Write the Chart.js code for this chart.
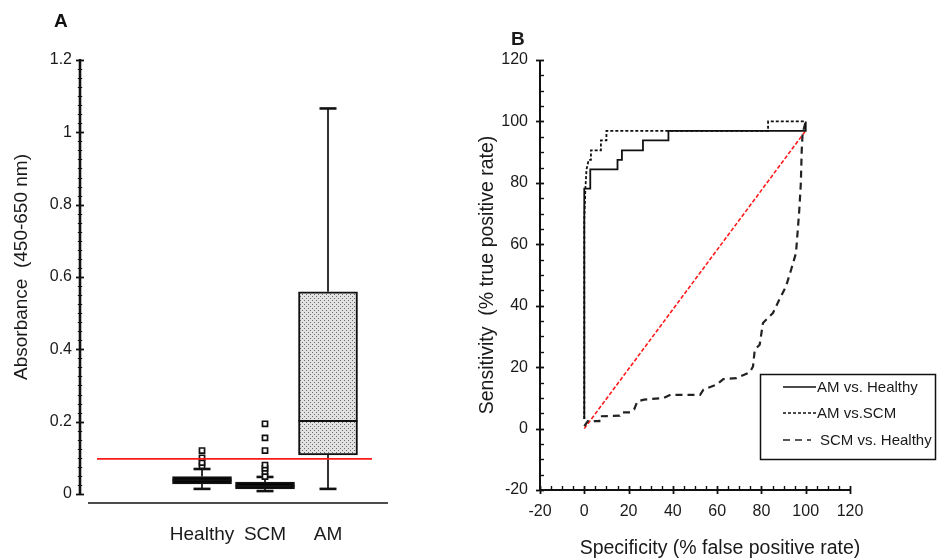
<!DOCTYPE html>
<html>
<head>
<meta charset="utf-8">
<script src="https://cdn.jsdelivr.net/npm/chart.js@4.4.1/dist/chart.umd.min.js"></script>
<style>
  html, body { margin: 0; padding: 0; background: #ffffff; }
  #wrap { position: relative; width: 943px; height: 560px; overflow: hidden; background: #ffffff; }
  canvas { position: absolute; top: 0; }
  #cA { left: 0; }
  #cB { left: 470px; }
</style>
</head>
<body>
<div id="wrap">
  <canvas id="cA" width="470" height="560"></canvas>
  <canvas id="cB" width="473" height="560"></canvas>
</div>
<script>
// ---- Panel A: absorbance per group (box plot) ----
const groups = ['Healthy', 'SCM', 'AM'];
const whiskerLow  = [0.014, 0.008, 0.014];
const q1          = [0.028, 0.014, 0.108];
const median      = [0.038, 0.022, 0.202];
const q3          = [0.048, 0.033, 0.559];
const whiskerHigh = [0.069, 0.047, 1.066];
const outliersHealthy = [0.078, 0.087, 0.100, 0.120];
const outliersSCM     = [0.048, 0.062, 0.071, 0.080, 0.120, 0.155, 0.194];
const cutoff = 0.097;
const yTicksA = [0, 0.2, 0.4, 0.6, 0.8, 1, 1.2];

// ---- Panel B: ROC curves ----
const xTicksB = [-20, 0, 20, 40, 60, 80, 100, 120];
const yTicksB = [-20, 0, 20, 40, 60, 80, 100, 120];
const amHealthyFpr = [0, 0, 2.7, 2.7, 15, 15, 17, 17, 26.5, 26.5, 38, 38, 100, 100];
const amHealthyTpr = [3.1, 78.1, 78.1, 84.4, 84.4, 87.5, 87.5, 90.6, 90.6, 93.8, 93.8, 96.9, 96.9, 100];
const amScmFpr = [0, 0, 0.5, 1, 2, 3, 3, 7.5, 7.5, 10, 10, 83, 83, 100];
const amScmTpr = [3.1, 68, 78, 84.4, 87.5, 87.5, 90.6, 90.6, 93.8, 93.8, 96.9, 96.9, 100, 100];
const scmHealthyFpr = [0, 1.6, 6.8, 6.8, 16, 17, 21, 22.5, 24, 27, 36, 39, 52.3, 53.8, 59.8, 62.8, 68.7, 74.7, 76.2, 77, 79.2, 80.7, 85.2, 88.1, 91.1, 93.4, 95.6, 96.3, 97.1, 97.8, 98.2, 98.6, 100];
const scmHealthyTpr = [0.8, 2.4, 2.4, 4, 4.2, 5.3, 5.3, 6.2, 8.9, 9.4, 10, 11, 11, 12.7, 14.3, 16.1, 16.4, 18.3, 20.2, 25.7, 27.3, 34.4, 37.6, 42, 46.3, 51.7, 57.1, 63.6, 71.2, 79.9, 90.7, 96.1, 100];
const chanceFpr = [0, 100];
const chanceTpr = [0, 97];
const seriesLabels = ['AM vs. Healthy', 'AM vs.SCM', 'SCM vs. Healthy'];

const FONT = "'Liberation Sans', Arial, sans-serif";
const INK = '#111111';
Chart.defaults.font.family = FONT;
Chart.defaults.color = '#1a1a1a';

function seg(ctx, x1, y1, x2, y2) {
  ctx.beginPath(); ctx.moveTo(x1, y1); ctx.lineTo(x2, y2); ctx.stroke();
}
function rangeStep(a, b, s) {
  const out = [];
  for (let i = 0; a + i * s <= b + 1e-9; i++) out.push(+(a + i * s).toFixed(6));
  return out;
}
function rotatedText(ctx, text, x, y, font) {
  ctx.save();
  ctx.translate(x, y); ctx.rotate(-Math.PI / 2);
  ctx.font = font; ctx.fillStyle = '#1a1a1a';
  ctx.textAlign = 'center'; ctx.textBaseline = 'middle';
  ctx.fillText(text, 0, 0);
  ctx.restore();
}

// dotted grey fill for the AM box
function dotPattern() {
  const c = document.createElement('canvas');
  c.width = 4; c.height = 4;
  const g = c.getContext('2d');
  g.fillStyle = '#e2e2e2'; g.fillRect(0, 0, 4, 4);
  g.fillStyle = '#6a6a6a';
  g.fillRect(0, 0, 1, 1); g.fillRect(2, 2, 1, 1);
  return g.createPattern(c, 'repeat');
}

// ---------- Chart A ----------
const boxParts = {
  id: 'boxParts',
  beforeDatasetsDraw(chart) {
    const { ctx, chartArea: a, scales: { y } } = chart;
    ctx.save();
    ctx.strokeStyle = INK;
    // vertical axis from 0 to 1.2
    ctx.lineWidth = 2.6;
    seg(ctx, a.left, y.getPixelForValue(0) + 1, a.left, y.getPixelForValue(1.2) - 1);
    rangeStep(0, 1.2, 0.025).forEach(v => {
      const py = Math.round(y.getPixelForValue(v)) + 0.5;
      const major = yTicksA.some(t => Math.abs(t - v) < 1e-6);
      const len = major ? 4 : 2.2;
      ctx.lineWidth = major ? 1.8 : 1;
      seg(ctx, a.left - len, py, a.left + len, py);
    });
    // horizontal baseline
    ctx.lineWidth = 1.6;
    seg(ctx, a.left + 8, a.bottom, a.right - 4, a.bottom);
    // whiskers and caps
    groups.forEach((g, i) => {
      const cx = chart.scales.x.getPixelForValue(i);
      ctx.strokeStyle = '#333333'; ctx.lineWidth = 2;
      seg(ctx, cx, y.getPixelForValue(whiskerLow[i]), cx, y.getPixelForValue(q1[i]));
      seg(ctx, cx, y.getPixelForValue(q3[i]), cx, y.getPixelForValue(whiskerHigh[i]));
      ctx.strokeStyle = INK; ctx.lineWidth = 2.6;
      seg(ctx, cx - 8.5, y.getPixelForValue(whiskerLow[i]), cx + 8.5, y.getPixelForValue(whiskerLow[i]));
      seg(ctx, cx - 8.5, y.getPixelForValue(whiskerHigh[i]), cx + 8.5, y.getPixelForValue(whiskerHigh[i]));
    });
    ctx.restore();
  },
  afterDatasetDraw(chart, args) {
    if (args.index !== 0) return;
    const { ctx, scales: { x, y } } = chart;
    const meta = chart.getDatasetMeta(0);
    ctx.save();
    ctx.strokeStyle = INK; ctx.lineWidth = 2;
    groups.forEach((g, i) => {
      const half = meta.data[i].width / 2;
      const cx = x.getPixelForValue(i);
      const my = y.getPixelForValue(median[i]);
      seg(ctx, cx - half, my, cx + half, my);
    });
    ctx.restore();
  },
  afterDatasetsDraw(chart) {
    const { ctx, chartArea: a, scales: { y } } = chart;
    ctx.save();
    ctx.strokeStyle = '#ff1a1a'; ctx.lineWidth = 1.6;
    const py = y.getPixelForValue(cutoff);
    seg(ctx, a.left + 17, py, a.right - 20, py);
    ctx.restore();
  },
  afterDraw(chart) {
    const { ctx } = chart;
    rotatedText(ctx, 'Absorbance  (450-650 nm)', 22, 267, '19px ' + FONT);
    ctx.save();
    ctx.font = 'bold 19px ' + FONT; ctx.fillStyle = '#111';
    ctx.textAlign = 'left'; ctx.textBaseline = 'middle';
    ctx.fillText('A', 54, 22);
    ctx.restore();
  }
};

new Chart(document.getElementById('cA'), {
  type: 'bar',
  data: {
    datasets: [
      {
        label: 'IQR',
        data: groups.map((g, i) => ({ x: i, y: [q1[i], q3[i]] })),
        backgroundColor: ['#000000', '#000000', dotPattern()],
        borderColor: INK,
        borderWidth: 2,
        borderSkipped: false,
        barThickness: 59,
        order: 2
      },
      {
        type: 'scatter',
        label: 'Healthy outliers',
        data: outliersHealthy.map(v => ({ x: 0, y: v })),
        pointStyle: 'rect', pointRadius: 3.6,
        backgroundColor: '#ffffff', borderColor: INK, borderWidth: 1.7,
        order: 1
      },
      {
        type: 'scatter',
        label: 'SCM outliers',
        data: outliersSCM.map(v => ({ x: 1, y: v })),
        pointStyle: 'rect', pointRadius: 3.6,
        backgroundColor: '#ffffff', borderColor: INK, borderWidth: 1.7,
        order: 1
      }
    ]
  },
  options: {
    responsive: false,
    animation: false,
    events: [],
    layout: { padding: { top: 60, right: 78, left: 0, bottom: 0 } },
    plugins: { legend: { display: false }, tooltip: { enabled: false } },
    scales: {
      x: {
        type: 'linear',
        min: -1.937, max: 3.016,
        offset: false,
        grid: { display: false, drawTicks: false },
        border: { display: false },
        afterBuildTicks: s => { s.ticks = groups.map((g, i) => ({ value: i })); },
        afterFit: s => { s.height = 57; },
        ticks: {
          callback: v => groups[v],
          font: { size: 19 }, padding: 20, maxRotation: 0, autoSkip: false, color: '#1a1a1a'
        }
      },
      y: {
        min: -0.025, max: 1.2,
        grid: { display: false, drawTicks: false },
        border: { display: false },
        afterBuildTicks: s => { s.ticks = yTicksA.map(v => ({ value: v })); },
        afterFit: s => { s.width = 80; },
        ticks: { callback: v => String(v), font: { size: 16 }, padding: 8, color: '#1a1a1a' }
      }
    }
  },
  plugins: [boxParts]
});

// ---------- Chart B ----------
const pts = (xs, ys) => xs.map((x, i) => ({ x, y: ys[i] }));

const rocFrame = {
  id: 'rocFrame',
  beforeDatasetsDraw(chart) {
    const { ctx, chartArea: a, scales: { x, y } } = chart;
    ctx.save();
    ctx.strokeStyle = INK;
    ctx.lineWidth = 2;
    seg(ctx, a.left, a.top, a.left, a.bottom + 1);
    seg(ctx, a.left - 1, a.bottom, a.right, a.bottom);
    rangeStep(-20, 120, 5).forEach(v => {
      const major = v % 20 === 0;
      ctx.lineWidth = major ? 1.8 : 1.4;
      const py = Math.round(y.getPixelForValue(v)) + 0.5;
      seg(ctx, a.left - (major ? 4 : 0), py, a.left + 4, py);
      const px = Math.round(x.getPixelForValue(v)) + 0.5;
      seg(ctx, px, a.bottom - 4, px, a.bottom + (major ? 4 : 0));
    });
    ctx.restore();
  },
  afterDraw(chart) {
    const { ctx } = chart;
    rotatedText(ctx, 'Sensitivity  (% true positive rate)', 18, 275, '19.5px ' + FONT);
    ctx.save();
    ctx.fillStyle = '#1a1a1a';
    ctx.font = '19.5px ' + FONT; ctx.textAlign = 'center'; ctx.textBaseline = 'middle';
    ctx.fillText('Specificity (% false positive rate)', 250, 549);
    ctx.font = 'bold 19px ' + FONT; ctx.textAlign = 'left';
    ctx.fillText('B', 41, 40);
    // legend
    const bx = 290, by = 374, bw = 175, bh = 85;
    ctx.strokeStyle = INK; ctx.lineWidth = 1.5;
    ctx.strokeRect(bx + 0.5, by + 0.5, bw, bh);
    const rows = [387, 413, 440];
    chart.data.datasets.slice(0, 3).forEach((ds, i) => {
      ctx.save();
      ctx.strokeStyle = ds.borderColor; ctx.lineWidth = 1.5;
      ctx.setLineDash(ds.borderDash || []);
      const end = i === 2 ? 341 : 346;
      seg(ctx, 313, rows[i], end, rows[i]);
      ctx.restore();
      ctx.font = '15px ' + FONT; ctx.textAlign = 'left'; ctx.fillStyle = '#1a1a1a';
      ctx.fillText(ds.label, i === 2 ? 350 : 347, rows[i] + 1);
    });
    ctx.restore();
  }
};

new Chart(document.getElementById('cB'), {
  type: 'scatter',
  data: {
    datasets: [
      { label: seriesLabels[0], data: pts(amHealthyFpr, amHealthyTpr), showLine: true,
        borderColor: INK, borderWidth: 1.8, pointRadius: 0, borderDash: [] },
      { label: seriesLabels[1], data: pts(amScmFpr, amScmTpr), showLine: true,
        borderColor: INK, borderWidth: 1.8, pointRadius: 0, borderDash: [3, 2] },
      { label: seriesLabels[2], data: pts(scmHealthyFpr, scmHealthyTpr), showLine: true,
        borderColor: '#222222', borderWidth: 2.2, pointRadius: 0, borderDash: [7, 5] },
      { label: 'chance', data: pts(chanceFpr, chanceTpr), showLine: true,
        borderColor: '#ff1a1a', borderWidth: 1.6, pointRadius: 0, borderDash: [4, 2] }
    ]
  },
  options: {
    responsive: false,
    animation: false,
    events: [],
    layout: { padding: { top: 60, right: 93, left: 0, bottom: 0 } },
    plugins: { legend: { display: false }, tooltip: { enabled: false } },
    scales: {
      x: {
        type: 'linear', min: -20, max: 120,
        grid: { display: false, drawTicks: false },
        border: { display: false },
        afterBuildTicks: s => { s.ticks = xTicksB.map(v => ({ value: v })); },
        afterFit: s => { s.height = 70; },
        ticks: { callback: v => String(v), font: { size: 16 }, padding: 12, maxRotation: 0, autoSkip: false, color: '#1a1a1a' }
      },
      y: {
        type: 'linear', min: -20, max: 120,
        grid: { display: false, drawTicks: false },
        border: { display: false },
        afterBuildTicks: s => { s.ticks = yTicksB.map(v => ({ value: v })); },
        afterFit: s => { s.width = 70; },
        ticks: { callback: v => String(v), font: { size: 16 }, padding: 12, autoSkip: false, color: '#1a1a1a' }
      }
    }
  },
  plugins: [rocFrame]
});
</script>
</body>
</html>
